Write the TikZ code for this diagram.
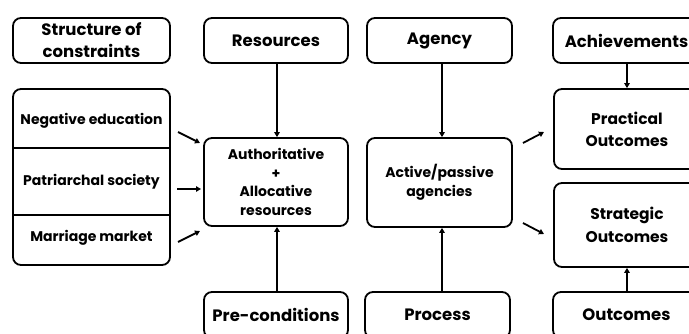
\documentclass[tikz,border=0pt]{standalone}
\usepackage{fontspec}
\setmainfont{Poppins}
\usetikzlibrary{arrows.meta}
\begin{document}
\begin{tikzpicture}[x=1pt,y=-1pt,
  box/.style={draw, line width=1.8pt, rounded corners=8pt, align=center,
    font=\bfseries\fontsize{16.5}{22}\selectfont, inner sep=0pt},
  lbl/.style={align=center, font=\bfseries\fontsize{14}{17}\selectfont, inner sep=0pt},
  link/.style={line width=1.8pt, -{Triangle[length=5pt,width=5.5pt]}}]
\useasboundingbox (0,0) rectangle (689,334);
\clip (0,0) rectangle (689,334);
% top row
\node[box, minimum width=157pt, minimum height=45pt] (soc) at (91.5,40.5) {Structure of\\constraints};
\node[box, minimum width=144pt, minimum height=45pt] (res) at (276,40.5) {Resources};
\node[box, minimum width=145pt, minimum height=45pt] (agc) at (439.5,40.5) {Agency};
\node[box, minimum width=147pt, minimum height=45pt] (ach) at (626.5,40.5) {Achievements};
% constraints list
\node[box, minimum width=157pt, minimum height=176pt] (lst) at (91.5,177) {};
\draw[line width=1.8pt] (lst.west |- 0,148) -- (lst.east |- 0,148);
\draw[line width=1.8pt] (lst.west |- 0,215) -- (lst.east |- 0,215);
\node[lbl] (neg) at (91.5,121) {Negative education};
\node[lbl] (pat) at (91.5,182) {Patriarchal society};
\node[lbl] (mar) at (91.5,238) {Marriage market};
% middle row
\node[box, minimum width=144pt, minimum height=88pt, font=\bfseries\fontsize{14}{18.7}\selectfont] (auth) at (276,182) {Authoritative\\+\\Allocative\\resources};
\node[box, minimum width=145pt, minimum height=89pt, font=\bfseries\fontsize{14}{19}\selectfont] (act) at (439.5,182.5) {Active/passive\\agencies};
\node[box, minimum width=146pt, minimum height=80pt, font=\bfseries\fontsize{15.5}{22}\selectfont] (prac) at (627,129) {Practical\\Outcomes};
\node[box, minimum width=146pt, minimum height=84pt, font=\bfseries\fontsize{15.5}{23}\selectfont] (strat) at (627,225) {Strategic\\Outcomes};
% bottom row
\node[box, minimum width=144pt, minimum height=46pt] (pre) at (276,315) {Pre-conditions};
\node[box, minimum width=145pt, minimum height=46pt] (proc) at (437.5,315) {Process};
\node[box, minimum width=147pt, minimum height=46pt] (outc) at (626.5,315) {Outcomes};
% vertical links
\draw[link] (res.south -| 277,0) -- (auth.north -| 277,0);
\draw[link] (agc.south -| 442,0) -- (act.north -| 442,0);
\draw[link] (ach.south -| 627,0) -- (prac.north -| 627,0);
\draw[link] (pre.north -| 277,0) -- (auth.south -| 277,0);
\draw[link] (proc.north -| 442,0) -- (act.south -| 442,0);
\draw[link] (outc.north -| 627,0) -- (strat.south -| 627,0);
% short arrows into and out of the middle boxes
\coordinate (a1s) at (178,132); \coordinate (a1e) at (200,143);
\coordinate (a2s) at (177,189); \coordinate (a2e) at (201,189);
\coordinate (a3s) at (178,242); \coordinate (a3e) at (200,231);
\coordinate (b1s) at (523,143); \coordinate (b1e) at (544,132);
\coordinate (b2s) at (523,223); \coordinate (b2e) at (544,234);
\draw[link] (a1s) -- (a1e);
\draw[link] (a2s) -- (a2e);
\draw[link] (a3s) -- (a3e);
\draw[link] (b1s) -- (b1e);
\draw[link] (b2s) -- (b2e);
\end{tikzpicture}
\end{document}
